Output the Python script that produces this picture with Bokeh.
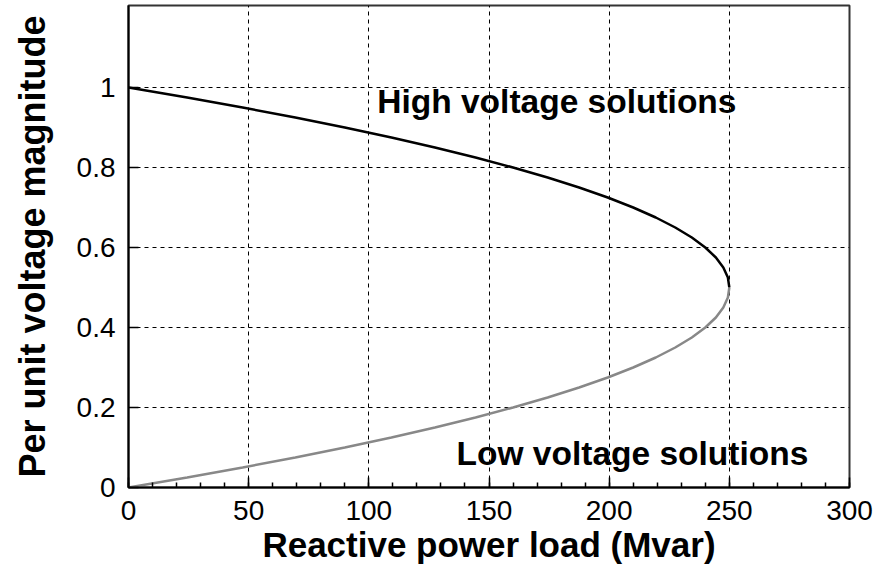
from bokeh.plotting import figure
from bokeh.models import Range1d, FixedTicker, Label
from bokeh.embed import file_html
from bokeh.resources import INLINE

# High voltage solutions (upper branch)
v_high = [1.0, 0.975, 0.95, 0.925, 0.9, 0.875, 0.85, 0.825, 0.8, 0.775, 0.75,
          0.725, 0.7, 0.675, 0.65, 0.625, 0.6, 0.575, 0.55, 0.525, 0.5]
q_high = [0.0, 24.4, 47.5, 69.4, 90.0, 109.4, 127.5, 144.4, 160.0, 174.4, 187.5,
          199.4, 210.0, 219.4, 227.5, 234.4, 240.0, 244.4, 247.5, 249.4, 250.0]
# Low voltage solutions (lower branch)
v_low = [0.5, 0.475, 0.45, 0.425, 0.4, 0.375, 0.35, 0.325, 0.3, 0.275, 0.25,
         0.225, 0.2, 0.175, 0.15, 0.125, 0.1, 0.075, 0.05, 0.025, 0.0]
q_low = [250.0, 249.4, 247.5, 244.4, 240.0, 234.4, 227.5, 219.4, 210.0, 199.4, 187.5,
         174.4, 160.0, 144.4, 127.5, 109.4, 90.0, 69.4, 47.5, 24.4, 0.0]

x_ticks = [0, 50, 100, 150, 200, 250, 300]
y_ticks = [0, 0.2, 0.4, 0.6, 0.8, 1.0]
y_tick_labels = {0: "0", 0.2: "0.2", 0.4: "0.4", 0.6: "0.6", 0.8: "0.8", 1.0: "1"}

FONT = "Liberation Sans"

p = figure(width=879, height=573, output_backend="svg", toolbar_location=None,
           x_range=Range1d(0, 300), y_range=Range1d(0, 1.205),
           min_border_left=128, min_border_right=30, min_border_top=5,
           min_border_bottom=86)

p.outline_line_color = "#333333"
p.outline_line_width = 2

p.line(q_high, v_high, line_color="black", line_width=2.5)
p.line(q_low, v_low, line_color="#888888", line_width=2.5)

p.xaxis.ticker = FixedTicker(ticks=x_ticks, minor_ticks=list(range(0, 301, 10)))
p.yaxis.ticker = FixedTicker(ticks=y_ticks, minor_ticks=[])
p.yaxis.major_label_overrides = y_tick_labels

for ax in (p.xaxis[0], p.yaxis[0]):
    ax.axis_line_color = "black"
    ax.axis_line_width = 2
    ax.major_tick_in = 10
    ax.major_tick_out = 0
    ax.major_tick_line_color = "black"
    ax.major_tick_line_width = 1.5
    ax.minor_tick_in = 5
    ax.minor_tick_out = 0
    ax.minor_tick_line_color = "black"
    ax.minor_tick_line_width = 1.5
    ax.major_label_text_font = FONT
    ax.major_label_text_font_size = "28px"
    ax.major_label_text_color = "black"
    ax.axis_label_text_font = FONT
    ax.axis_label_text_font_style = "bold"
    ax.axis_label_text_color = "black"

p.xaxis.axis_label_text_font_size = "35px"
p.yaxis.axis_label_text_font_size = "36px"
p.xaxis.major_label_standoff = 13
p.yaxis.major_label_standoff = 13
p.xaxis.axis_label_standoff = 2
p.yaxis.axis_label_standoff = 21
p.xaxis.axis_label = "Reactive power load (Mvar)"
p.yaxis.axis_label = "Per unit voltage magnitude"

for g in (p.xgrid[0], p.ygrid[0]):
    g.grid_line_color = "black"
    g.grid_line_dash = "4 4"
    g.grid_line_width = 1

p.add_layout(Label(x=103.5, y=0.965, text="High voltage solutions",
                   text_font=FONT, text_font_style="bold", text_font_size="33.5px",
                   text_baseline="middle", text_color="black"))
p.add_layout(Label(x=136.5, y=0.085, text="Low voltage solutions",
                   text_font=FONT, text_font_style="bold", text_font_size="33.5px",
                   text_baseline="middle", text_color="black"))

open("out.html", "w").write(file_html(p, INLINE))
